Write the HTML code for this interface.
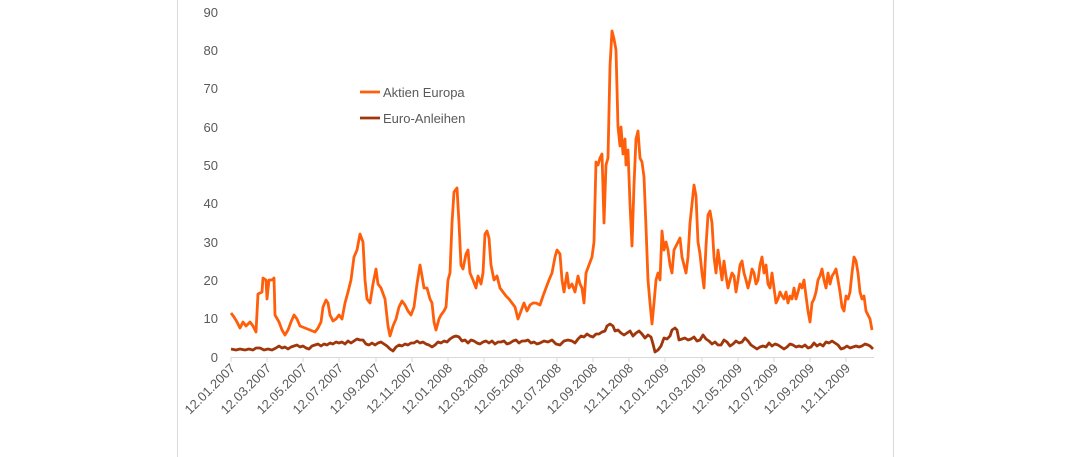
<!DOCTYPE html>
<html><head><meta charset="utf-8"><style>
html,body{margin:0;padding:0;background:#fff;}
svg{display:block;font-family:"Liberation Sans",sans-serif;}
</style></head><body>
<svg width="1070" height="457" viewBox="0 0 1070 457">
<line x1="177.5" y1="0" x2="177.5" y2="457" stroke="#d9d9d9" stroke-width="1"/>
<line x1="893.5" y1="0" x2="893.5" y2="457" stroke="#d9d9d9" stroke-width="1"/>
<g fill="#595959" font-size="13" text-anchor="end">
<text x="218" y="362">0</text><text x="218" y="323">10</text><text x="218" y="285">20</text>
<text x="218" y="247">30</text><text x="218" y="208">40</text><text x="218" y="170">50</text>
<text x="218" y="132">60</text><text x="218" y="93">70</text><text x="218" y="55">80</text>
<text x="218" y="17">90</text>
</g>
<line x1="231" y1="357.5" x2="874" y2="357.5" stroke="#d9d9d9" stroke-width="1"/>
<g stroke="#d9d9d9">
<line x1="231" y1="357" x2="231" y2="362"/><line x1="267" y1="357" x2="267" y2="362"/><line x1="303" y1="357" x2="303" y2="362"/><line x1="339" y1="357" x2="339" y2="362"/><line x1="376" y1="357" x2="376" y2="362"/><line x1="412" y1="357" x2="412" y2="362"/><line x1="448" y1="357" x2="448" y2="362"/><line x1="484" y1="357" x2="484" y2="362"/><line x1="520" y1="357" x2="520" y2="362"/><line x1="557" y1="357" x2="557" y2="362"/><line x1="593" y1="357" x2="593" y2="362"/><line x1="629" y1="357" x2="629" y2="362"/><line x1="665" y1="357" x2="665" y2="362"/><line x1="702" y1="357" x2="702" y2="362"/><line x1="738" y1="357" x2="738" y2="362"/><line x1="774" y1="357" x2="774" y2="362"/><line x1="810" y1="357" x2="810" y2="362"/><line x1="846" y1="357" x2="846" y2="362"/>
</g>
<g fill="#595959" font-size="13" text-anchor="end">
<text transform="translate(236,369) rotate(-45)">12.01.2007</text>
<text transform="translate(272,369) rotate(-45)">12.03.2007</text>
<text transform="translate(308,369) rotate(-45)">12.05.2007</text>
<text transform="translate(344,369) rotate(-45)">12.07.2007</text>
<text transform="translate(381,369) rotate(-45)">12.09.2007</text>
<text transform="translate(417,369) rotate(-45)">12.11.2007</text>
<text transform="translate(453,369) rotate(-45)">12.01.2008</text>
<text transform="translate(489,369) rotate(-45)">12.03.2008</text>
<text transform="translate(525,369) rotate(-45)">12.05.2008</text>
<text transform="translate(562,369) rotate(-45)">12.07.2008</text>
<text transform="translate(598,369) rotate(-45)">12.09.2008</text>
<text transform="translate(634,369) rotate(-45)">12.11.2008</text>
<text transform="translate(670,369) rotate(-45)">12.01.2009</text>
<text transform="translate(707,369) rotate(-45)">12.03.2009</text>
<text transform="translate(743,369) rotate(-45)">12.05.2009</text>
<text transform="translate(779,369) rotate(-45)">12.07.2009</text>
<text transform="translate(815,369) rotate(-45)">12.09.2009</text>
<text transform="translate(851,369) rotate(-45)">12.11.2009</text>
</g>
<polyline fill="none" stroke="#a0360a" stroke-width="2.8" stroke-linejoin="round" points="231,349 236,350 240,349 245,350 249,349 253,350 256,348 260,348 264,350 268,349 272,350 276,348 279,346 282,348 285,347 288,349 291,347 294,346 297,345 300,347 303,346 306,348 309,349 312,346 315,345 318,344 321,346 324,344 327,345 330,343 333,344 336,342 339,343 342,342 345,344 348,341 351,343 354,341 357,339 360,340 363,340 366,344 369,345 372,343 375,345 378,343 381,342 384,344 387,346 390,349 393,351 396,347 399,345 402,346 405,344 408,345 411,343 414,343 417,341 420,343 423,342 426,344 429,345 432,347 435,345 438,342 441,343 444,341 447,342 450,339 453,337 456,336 459,337 462,341 465,340 468,343 471,340 474,341 477,343 480,344 483,342 486,341 489,343 492,341 495,344 498,342 501,342 504,341 507,344 510,343 513,341 516,340 519,343 522,341 525,341 528,340 531,343 534,342 537,344 540,343 544,341 548,342 552,340 556,344 560,345 564,341 568,340 572,341 575,343 578,339 581,336 584,337 587,334 590,336 593,337 596,334 599,334 602,332 605,331 607,326 610,324 613,326 615,331 618,330 621,333 624,335 627,333 630,331 633,336 636,333 639,331 642,334 645,338 648,335 651,337 653,344 655,352 658,350 661,346 664,338 667,339 670,336 672,330 675,328 677,330 679,340 682,339 685,338 688,340 691,339 694,337 697,341 700,340 703,335 706,339 709,341 712,344 715,342 718,345 721,345 724,340 727,342 730,346 733,344 736,341 739,343 742,342 745,338 748,341 751,345 754,347 757,349 760,347 763,346 766,347 769,343 772,346 775,344 778,345 781,347 784,349 787,347 790,344 793,345 796,347 799,346 802,347 805,345 808,348 811,347 814,343 817,346 820,344 823,346 826,342 829,343 832,341 835,343 838,345 841,349 844,348 847,346 850,348 853,347 856,346 859,347 862,346 865,344 868,345 870,346 873,349"/>
<polyline fill="none" stroke="#ff5f0a" stroke-width="2.8" stroke-linejoin="round" points="231,313 234,317 237,322 240,328 243,322 246,326 250,322 253,326 256,332 258,294 262,292 263,278 266,280 267,299 269,280 272,280 274,278 275,315 279,322 282,330 285,335 288,330 291,322 294,315 297,319 300,326 305,328 310,330 315,332 318,328 321,322 323,307 326,300 328,303 330,315 333,321 336,319 339,315 342,319 345,303 348,292 351,280 354,257 357,250 360,234 363,242 365,280 367,299 370,303 373,284 376,269 378,284 381,288 385,299 388,326 390,336 393,326 396,319 399,307 402,301 405,305 408,311 411,315 414,307 417,284 420,265 422,276 424,288 427,288 430,299 432,303 434,322 436,330 439,319 441,315 444,311 446,307 448,280 450,273 452,223 454,192 457,188 459,223 461,265 463,269 466,254 468,250 470,273 473,280 476,288 478,276 481,284 483,273 485,234 487,231 489,238 491,265 494,280 497,276 500,288 503,292 506,296 509,299 512,303 515,307 518,319 521,311 524,303 527,311 530,305 533,303 536,303 540,305 543,296 546,288 549,280 552,273 555,257 557,250 560,254 562,280 564,292 567,273 569,288 572,284 575,292 578,276 580,284 582,288 584,303 586,273 589,265 592,257 594,242 596,162 598,165 600,158 602,154 604,223 606,165 608,158 610,66 612,31 614,39 616,50 618,127 620,146 621,127 623,154 625,139 626,165 628,150 630,204 632,246 634,185 636,139 638,131 640,158 642,162 644,177 646,227 648,280 650,303 652,324 654,303 656,280 658,273 660,280 662,231 664,250 666,242 668,250 670,265 672,273 674,250 676,246 678,242 680,238 682,257 684,265 686,273 688,257 690,223 692,204 694,185 696,196 698,242 700,254 702,273 704,288 706,246 708,215 710,211 712,223 714,257 716,273 718,250 720,265 722,280 724,261 726,276 728,288 730,280 732,273 734,276 736,292 738,280 740,265 742,261 744,273 746,280 748,288 750,280 752,269 754,273 756,284 758,280 760,265 762,257 764,273 766,265 768,284 770,288 772,273 774,288 776,303 778,299 780,292 782,296 784,299 786,292 788,303 790,296 792,299 794,288 796,299 798,292 800,284 802,288 804,280 806,296 808,311 810,322 812,303 814,299 816,292 818,280 820,276 822,269 824,280 826,288 828,273 830,284 832,276 834,273 836,269 838,280 840,292 842,307 844,311 846,296 848,299 850,292 852,273 854,257 856,261 858,273 860,292 862,299 864,296 866,311 868,315 870,319 872,330"/>
<line x1="360" y1="92" x2="380" y2="92" stroke="#ff5f0a" stroke-width="2.8"/>
<text x="383" y="97" fill="#595959" font-size="13">Aktien Europa</text>
<line x1="360" y1="118" x2="380" y2="118" stroke="#a0360a" stroke-width="2.8"/>
<text x="383" y="123" fill="#595959" font-size="13">Euro-Anleihen</text>
</svg>
</body></html>
